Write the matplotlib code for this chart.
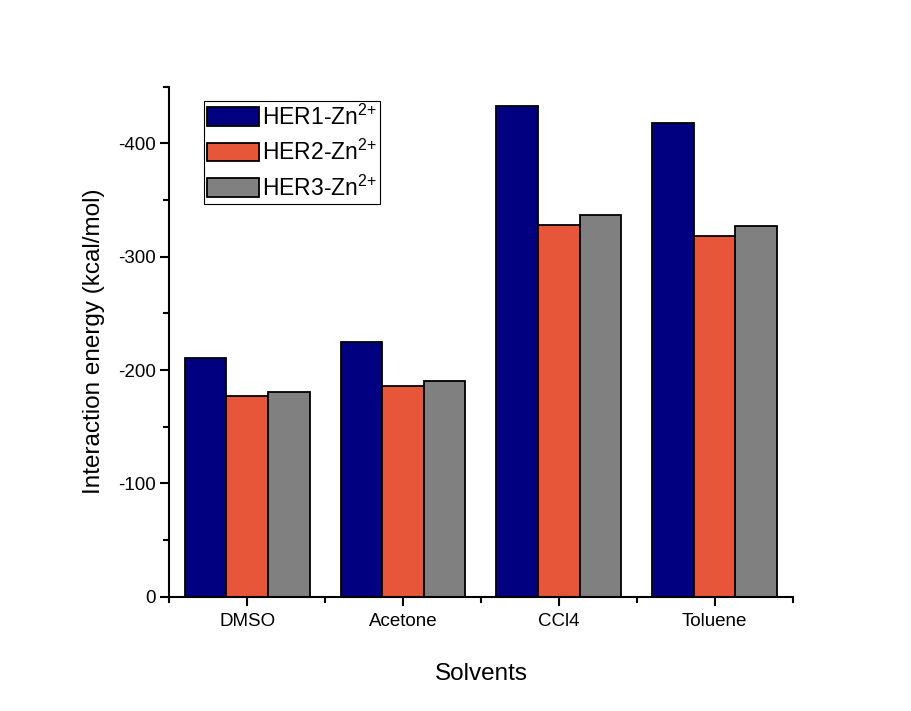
import matplotlib
matplotlib.use("Agg")
import matplotlib.pyplot as plt
import numpy as np
from matplotlib.ticker import MultipleLocator, FixedLocator

plt.rcParams['font.family'] = ['Liberation Sans', 'DejaVu Sans']
plt.rcParams['mathtext.default'] = 'regular'
plt.rcParams['axes.unicode_minus'] = False

# Data (interaction energies, kcal/mol)
solvents = ['DMSO', 'Acetone', 'CCl4', 'Toluene']
her1 = [-211, -225, -433, -418]
her2 = [-177, -186, -328, -318]
her3 = [-181, -190, -337, -327]
labels = ['HER1-Zn$^{2{+}}$', 'HER2-Zn$^{2{+}}$', 'HER3-Zn$^{2{+}}$']
colors = ['#000080', '#E8563A', '#808080']

fig = plt.figure(figsize=(9.11, 7.11), dpi=100)
ax = fig.add_axes([0.1858, 0.1608, 0.6842, 0.7172])

x = np.arange(len(solvents))
w = 0.8 / 3
for i, (vals, lab, c) in enumerate(zip([her1, her2, her3], labels, colors)):
    ax.bar(x + (i - 1) * w, vals, width=w, color=c, edgecolor='black',
           linewidth=1.3, label=lab)

ax.set_xlim(-0.5, len(solvents) - 0.5)
ax.set_ylim(0, -450)

ax.set_xticks(x)
ax.set_xticklabels(solvents)
ax.xaxis.set_minor_locator(FixedLocator(np.arange(-0.5, len(solvents), 1.0)))
ax.yaxis.set_major_locator(MultipleLocator(100))
ax.yaxis.set_minor_locator(MultipleLocator(50))

for s in ['top', 'right']:
    ax.spines[s].set_visible(False)
for s in ['left', 'bottom']:
    ax.spines[s].set_linewidth(1.5)

ax.tick_params(which='major', direction='out', length=6.7, width=1.5, labelsize=13.5, pad=3)
ax.tick_params(which='minor', direction='out', length=4.5, width=1.5)
ax.tick_params(axis='x', which='major', pad=5)

ax.set_xlabel('Solvents', fontsize=17.5, labelpad=24)
ax.set_ylabel('Interaction energy (kcal/mol)', fontsize=17.5, labelpad=9)

leg = ax.legend(loc='upper left', bbox_to_anchor=(0.0557, 0.9725), fontsize=16.5,
                fancybox=False, framealpha=1, edgecolor='black',
                handlelength=2.27, handleheight=0.87, handletextpad=0.1,
                labelspacing=0.45, borderpad=0.15, borderaxespad=0)
leg.get_frame().set_linewidth(0.8)

fig.savefig('out.png', dpi=100)
